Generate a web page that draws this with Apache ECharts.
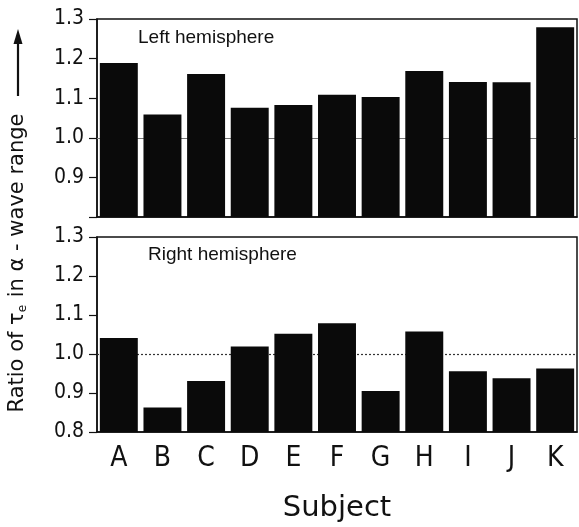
<!DOCTYPE html>
<html>
<head>
<meta charset="utf-8">
<script src="https://cdn.jsdelivr.net/npm/echarts@6/dist/echarts.min.js"></script>
<style>
html,body{margin:0;padding:0;background:#fff;}
#c{width:579px;height:527px;}
</style>
</head>
<body>
<div id="c"></div>
<script>
const subjects = ['A','B','C','D','E','F','G','H','I','J','K'];
const leftHemisphere  = [1.189, 1.059, 1.161, 1.076, 1.083, 1.109, 1.103, 1.169, 1.141, 1.140, 1.279];
const rightHemisphere = [1.041, 0.863, 0.931, 1.019, 1.052, 1.079, 0.905, 1.058, 0.956, 0.938, 0.963];
const yMin = 0.8, yMax = 1.3, yStep = 0.1;
const refValue = 1.0;

const chart = echarts.init(document.getElementById('c'), null, {renderer: 'canvas'});
const axisFont = 'DejaVu Sans Condensed';
const lineCol = '#111';

function yAxis(gridIndex, showMinLabel) {
  return {
    type: 'value', gridIndex, min: yMin, max: yMax, interval: yStep,
    axisLine: {show: true, lineStyle: {color: lineCol, width: 1.5}},
    axisTick: {show: true, inside: false, length: 8, lineStyle: {color: lineCol, width: 1.2}},
    splitLine: {show: false},
    axisLabel: {
      margin: 13, color: '#111', fontFamily: axisFont, fontSize: 21,
      formatter: v => (!showMinLabel && Math.abs(v - yMin) < 1e-9) ? '' : v.toFixed(1)
    }
  };
}
function xAxis(gridIndex, showLabels) {
  return {
    type: 'category', gridIndex, data: subjects,
    axisLine: {show: true, onZero: false, lineStyle: {color: lineCol, width: 1.5}},
    axisTick: {show: false},
    axisLabel: {show: showLabels, color: '#111', fontFamily: axisFont, fontSize: 28, margin: 13},
    name: showLabels ? 'Subject' : '',
    nameLocation: 'middle', nameGap: 62,
    nameTextStyle: {color: '#111', fontFamily: 'DejaVu Sans', fontSize: 29}
  };
}
function bars(idx, data) {
  return {
    type: 'bar', xAxisIndex: idx, yAxisIndex: idx, data: data, z: 3,
    barCategoryGap: '13%',
    itemStyle: {color: '#0a0a0a'},
    silent: true
  };
}
function refLine(idx, style) {
  return {
    type: 'line', xAxisIndex: idx, yAxisIndex: idx, data: [], z: 1, silent: true,
    markLine: {
      silent: true, symbol: 'none', z: 1,
      label: {show: false},
      lineStyle: style,
      data: [{yAxis: refValue}]
    }
  };
}

chart.setOption({
  animation: false,
  backgroundColor: '#fff',
  grid: [
    {left: 97, right: 2, top: 19, height: 198, show: true, borderColor: lineCol, borderWidth: 1.5},
    {left: 97, right: 2, top: 237, height: 195, show: true, borderColor: lineCol, borderWidth: 1.5}
  ],
  xAxis: [xAxis(0, false), xAxis(1, true)],
  yAxis: [yAxis(0, false), yAxis(1, true)],
  series: [
    refLine(0, {color: '#777', width: 1.2, type: 'solid'}),
    bars(0, leftHemisphere),
    refLine(1, {color: '#333', width: 1.2, type: [2, 2]}),
    bars(1, rightHemisphere)
  ],
  graphic: [
    {type: 'text', left: 138, top: 28, silent: true,
     style: {text: 'Left hemisphere', fontFamily: 'Liberation Sans', fontSize: 19, fill: '#111'}},
    {type: 'text', left: 148, top: 245, silent: true,
     style: {text: 'Right hemisphere', fontFamily: 'Liberation Sans', fontSize: 19, fill: '#111'}},
    {type: 'text', x: 18, y: 263, rotation: Math.PI / 2, silent: true,
     style: {
       text: '{a|Ratio of τ}{s|e}{a| in α - wave range}',
       align: 'center', verticalAlign: 'middle',
       rich: {
         a: {fontFamily: 'DejaVu Sans', fontSize: 21, fill: '#111'},
         s: {fontFamily: 'DejaVu Sans', fontSize: 12, fill: '#111', padding: [9, 1, 0, 0]}
       }
     }},
    {type: 'line', silent: true, shape: {x1: 18, y1: 96, x2: 18, y2: 42},
     style: {stroke: '#111', lineWidth: 2.2}},
    {type: 'polygon', silent: true, shape: {points: [[18, 29], [13.5, 44], [22.5, 44]]},
     style: {fill: '#111'}}
  ]
});
</script>
</body>
</html>
